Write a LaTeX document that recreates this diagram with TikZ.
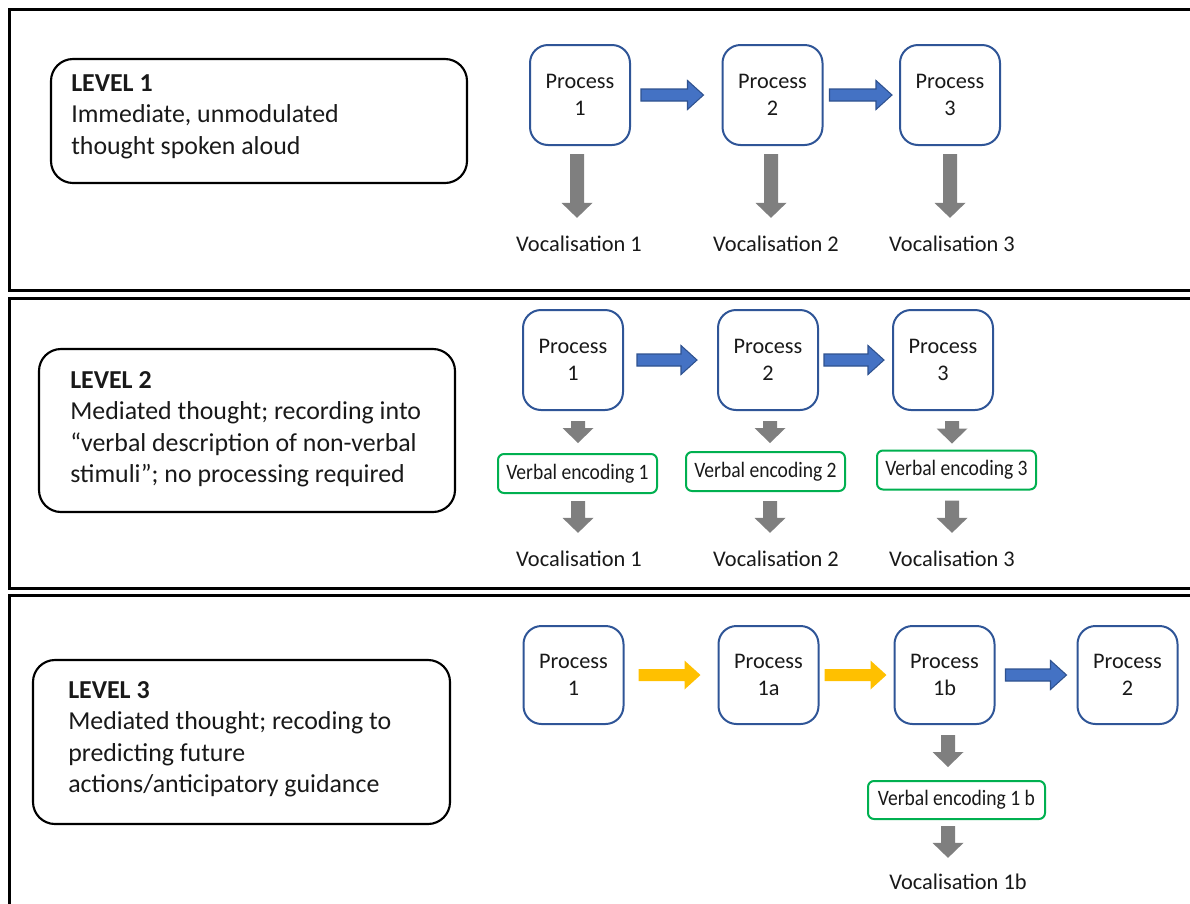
\documentclass[tikz,border=0pt]{standalone}
\usepackage{fontspec}
\setmainfont{Carlito}
\newfontfamily\vefont[FakeStretch=0.89]{Carlito}
\usetikzlibrary{calc}
% one drawing unit = one pixel of the layout grid
\newcommand{\pxu}{0.75pt}
\definecolor{procblue}{RGB}{47,85,151}
\definecolor{arrowblue}{RGB}{68,114,196}
\definecolor{arrowblueline}{RGB}{47,82,143}
\definecolor{arrowyellow}{RGB}{255,192,0}
\definecolor{arrowgray}{RGB}{127,127,127}
\definecolor{vegreen}{RGB}{0,176,80}
\definecolor{txt}{RGB}{25,25,25}

\begin{document}
\begin{tikzpicture}[x=0.75pt,y=-0.75pt,
  panel/.style={draw=black, line width=2.25pt},
  lvlbox/.style={draw=black, line width=1.6pt, rounded corners=16.5pt, inner sep=0pt},
  % placed by the baseline of the last line
  lvltxt/.style={anchor=base west, align=left, inner sep=0pt, text=txt,
    font=\fontsize{19.4}{23.6}\selectfont},
  proc/.style={draw=procblue, line width=1.5pt, rounded corners=13.5pt, fill=white,
    minimum width=100*\pxu, minimum height=100*\pxu, inner sep=0pt, align=center,
    text=txt, font=\fontsize{16.7}{20.25}\selectfont},
  voc/.style={inner sep=0pt, text=txt, font=\fontsize{16.8}{20}\selectfont},
  verbal/.style={draw=vegreen, line width=1.5pt, rounded corners=4.5pt,
    minimum width=159*\pxu, minimum height=39*\pxu, inner sep=0pt, text=txt,
    font=\vefont\fontsize{16.5}{20}\selectfont},
  % horizontal block arrow: #1 = gap after start, #2 = gap before target
  harrow/.style 2 args={to path={
    let \p1=(\tikztostart), \p2=(\tikztotarget) in
    ({\x1+#1*\pxu},{\y1+6*\pxu}) -- ({\x2-#2*\pxu-16*\pxu},{\y1+6*\pxu})
    -- ({\x2-#2*\pxu-16*\pxu},{\y1+14.5*\pxu}) -- ({\x2-#2*\pxu},{\y1})
    -- ({\x2-#2*\pxu-16*\pxu},{\y1-14.5*\pxu}) -- ({\x2-#2*\pxu-16*\pxu},{\y1-6*\pxu})
    -- ({\x1+#1*\pxu},{\y1-6*\pxu}) -- cycle}},
  % vertical block arrow pointing down, on the x of its start
  varrow/.style 2 args={to path={
    let \p1=(\tikztostart), \p2=(\tikztotarget) in
    ({\x1-7*\pxu},{\y1-#1*\pxu}) -- ({\x1-7*\pxu},{\y2+#2*\pxu+15*\pxu})
    -- ({\x1-15.5*\pxu},{\y2+#2*\pxu+15*\pxu}) -- ({\x1},{\y2+#2*\pxu})
    -- ({\x1+15.5*\pxu},{\y2+#2*\pxu+15*\pxu}) -- ({\x1+7*\pxu},{\y2+#2*\pxu+15*\pxu})
    -- ({\x1+7*\pxu},{\y1-#1*\pxu}) -- cycle}},
  bluearrow/.style={fill=arrowblue, draw=arrowblueline, line width=0.8pt},
  yellowarrow/.style={fill=arrowyellow},
  grayarrow/.style={fill=arrowgray},
]
\useasboundingbox (0,0) rectangle (1190,904);
\clip (0,0) rectangle (1190,904);

% ---- three framed panels ----
\draw[panel] (9,9) rectangle (1215,290);
\draw[panel] (9,298) rectangle (1215,588);
\draw[panel] (9,595) rectangle (1215,925);

% ---- Level 1 ----
\node[lvlbox, minimum width=416*\pxu, minimum height=124*\pxu] (l1) at (259,121) {};
\node[lvltxt] (t1) at (71,154) {\textbf{LEVEL 1}\\Immediate, unmodulated\\thought spoken aloud};

\node[proc] (a1) at (580,95) {Process\\1};
\node[proc] (a2) at (772.5,95) {Process\\2};
\node[proc] (a3) at (950,95) {Process\\3};
\node[voc] (av1) at (579,244) {Vocalisation 1};
\node[voc] (av2) at (776,244) {Vocalisation 2};
\node[voc] (av3) at (952,244) {Vocalisation 3};

\path[bluearrow] (a1.east) to[harrow={10}{18}] (a2.west);
\path[bluearrow] (a2.east) to[harrow={6}{7}] (a3.west);
\path[grayarrow] ($(a1.south)+(-3,0)$) to[varrow={8}{18}] (av1.north);
\path[grayarrow] ($(a2.south)+(-1.5,0)$) to[varrow={8}{18}] (av2.north);
\path[grayarrow] (a3.south) to[varrow={8}{18}] (av3.north);

% ---- Level 2 ----
\node[lvlbox, minimum width=416*\pxu, minimum height=163*\pxu] (l2) at (247,430.5) {};
\node[lvltxt] (t2) at (70,482.5) {\textbf{LEVEL 2}\\Mediated thought; recording into\\%
``verbal description of non-verbal\\stimuli''; no processing required};

\node[proc] (b1) at (573,360) {Process\\1};
\node[proc] (b2) at (768,360) {Process\\2};
\node[proc] (b3) at (943,360) {Process\\3};
\node[verbal] (be1) at (577.5,473.5) {Verbal encoding 1};
\node[verbal] (be2) at (765.5,471.5) {Verbal encoding 2};
\node[verbal] (be3) at (956.5,470) {Verbal encoding 3};
\node[voc] (bv1) at (579,559) {Vocalisation 1};
\node[voc] (bv2) at (776,559) {Vocalisation 2};
\node[voc] (bv3) at (952,559) {Vocalisation 3};

\path[bluearrow] (b1.east) to[harrow={13}{20}] (b2.west);
\path[bluearrow] (b2.east) to[harrow={5}{8}] (b3.west);
\path[grayarrow] ($(b1.south)+(5,0)$) to[varrow={10}{10}] (be1.north);
\path[grayarrow] ($(b2.south)+(2,0)$) to[varrow={10}{8}] (be2.north);
\path[grayarrow] ($(b3.south)+(9,0)$) to[varrow={10}{6}] (be3.north);
\path[grayarrow] ($(be1.south)+(0.5,0)$) to[varrow={7}{18}] (bv1.north);
\path[grayarrow] ($(be2.south)+(4.5,0)$) to[varrow={9}{18}] (bv2.north);
\path[grayarrow] ($(be3.south)+(-4.5,0)$) to[varrow={10}{18}] (bv3.north);

% ---- Level 3 ----
\node[lvlbox, minimum width=417*\pxu, minimum height=164*\pxu] (l3) at (241.5,742) {};
\node[lvltxt] (t3) at (68,792.5) {\textbf{LEVEL 3}\\Mediated thought; recoding to\\%
predicting future\\actions/anticipatory guidance};

\node[proc, minimum height=98*\pxu] (c1) at (573.5,675) {Process\\1};
\node[proc, minimum height=98*\pxu] (c2) at (768.5,675) {Process\\1a};
\node[proc, minimum height=98*\pxu] (c3) at (944.5,675) {Process\\1b};
\node[proc, minimum height=98*\pxu] (c4) at (1127.5,675) {Process\\2};
\node[verbal, minimum width=177*\pxu, minimum height=38*\pxu] (ce) at (956.5,800) {Verbal encoding 1 b};
\node[voc] (cv) at (958,882) {Vocalisation 1b};

\path[yellowarrow] (c1.east) to[harrow={14}{17}] (c2.west);
\path[yellowarrow] (c2.east) to[harrow={5}{7}] (c3.west);
\path[bluearrow] (c3.east) to[harrow={10}{10}] (c4.west);
\path[grayarrow] ($(c3.south)+(3.5,0)$) to[varrow={10}{13}] (ce.north);
\path[grayarrow] ($(ce.south)+(-8.5,0)$) to[varrow={6}{16}] (cv.north);
\end{tikzpicture}
\end{document}
